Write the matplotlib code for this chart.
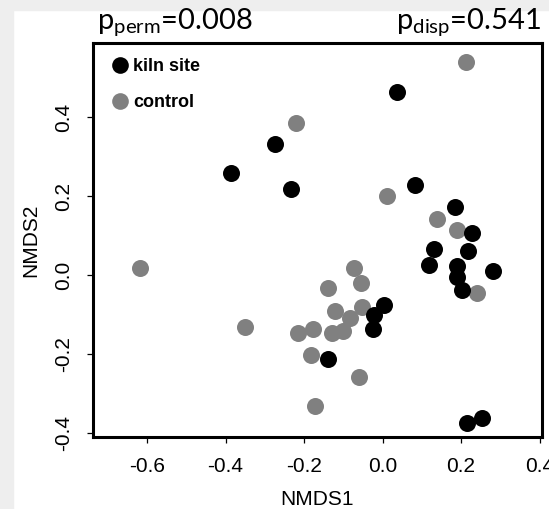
import matplotlib
matplotlib.use("Agg")
import matplotlib.pyplot as plt
from matplotlib.lines import Line2D
from matplotlib.patches import Rectangle

plt.rcParams['font.family'] = ['Liberation Sans', 'DejaVu Sans']
plt.rcParams['mathtext.fontset'] = 'custom'
plt.rcParams['mathtext.rm'] = 'Lato'

# kiln site (black)
kiln_x = [-0.386, -0.274, -0.233, 0.037, 0.083, 0.185, 0.228, 0.218, 0.131, 0.118,
          0.190, 0.282, 0.190, 0.203, 0.004, -0.022, -0.024, -0.139, 0.215, 0.253]
kiln_y = [0.259, 0.333, 0.218, 0.465, 0.229, 0.173, 0.107, 0.061, 0.066, 0.025,
          0.023, 0.010, -0.005, -0.038, -0.076, -0.102, -0.137, -0.213, -0.376, -0.363]

# control (grey)
ctrl_x = [-0.220, 0.213, 0.011, 0.139, 0.190, 0.241, -0.073, -0.055, -0.139, -0.121,
          -0.052, -0.083, -0.101, -0.129, -0.177, -0.215, -0.350, -0.618, -0.182, -0.060, -0.172]
ctrl_y = [0.386, 0.541, 0.201, 0.142, 0.114, -0.046, 0.018, -0.020, -0.033, -0.091,
          -0.081, -0.109, -0.142, -0.147, -0.137, -0.147, -0.132, 0.018, -0.203, -0.259, -0.333]

groups = ['kiln site', 'control']
xticks = [-0.6, -0.4, -0.2, 0.0, 0.2, 0.4]
yticks = [-0.4, -0.2, 0.0, 0.2, 0.4]
p_perm = '0.008'
p_disp = '0.541'

black = '#000000'
grey = '#808080'

fig = plt.figure(figsize=(5.49, 5.09), dpi=100)
# grey screenshot margins
fig.patches.append(Rectangle((0, 1 - 9.5/509), 1, 9.5/509, transform=fig.transFigure,
                             color='#eeeeee', zorder=0))
fig.patches.append(Rectangle((0, 0), 13/549, 1, transform=fig.transFigure,
                             color='#eeeeee', zorder=0))

ax = fig.add_axes([93/549, 72/509, 449/549, 394/509])
ax.scatter(ctrl_x, ctrl_y, s=150, color=grey, linewidths=0, zorder=2)
ax.scatter(kiln_x, kiln_y, s=150, color=black, linewidths=0, zorder=3)

ax.set_xlim(-0.7376, 0.406)
ax.set_ylim(-0.411, 0.589)
ax.set_xticks(xticks)
ax.set_xticklabels(['%.1f' % v for v in xticks])
ax.set_yticks(yticks)
ax.set_yticklabels(['%.1f' % v for v in yticks], rotation=90, va='center')
ax.tick_params(labelsize=15, length=4.5, width=0.9, pad=10)
for sp in ax.spines.values():
    sp.set_linewidth(2.2)

ax.set_xlabel('NMDS1', fontsize=15, labelpad=10)
ax.set_ylabel('NMDS2', fontsize=15, labelpad=10)

handles = [Line2D([], [], marker='o', linestyle='none', markersize=12,
                  color=c, markeredgewidth=0) for c in (black, grey)]
leg = ax.legend(handles, groups, loc='upper left', bbox_to_anchor=(0.003, 0.998),
                frameon=False, prop={'weight': 'bold', 'size': 13},
                handletextpad=0.15, labelspacing=1.05, borderpad=0.3, handlelength=1.2)

fig.text(97/549, 1 - 28/509, r'$\mathrm{p_{perm}}$=' + p_perm, fontsize=21,
         family='Lato', ha='left', va='baseline')
fig.text(541/549, 1 - 28/509, r'$\mathrm{p_{disp}}$=' + p_disp, fontsize=21,
         family='Lato', ha='right', va='baseline')

fig.savefig('out.png', dpi=100)
